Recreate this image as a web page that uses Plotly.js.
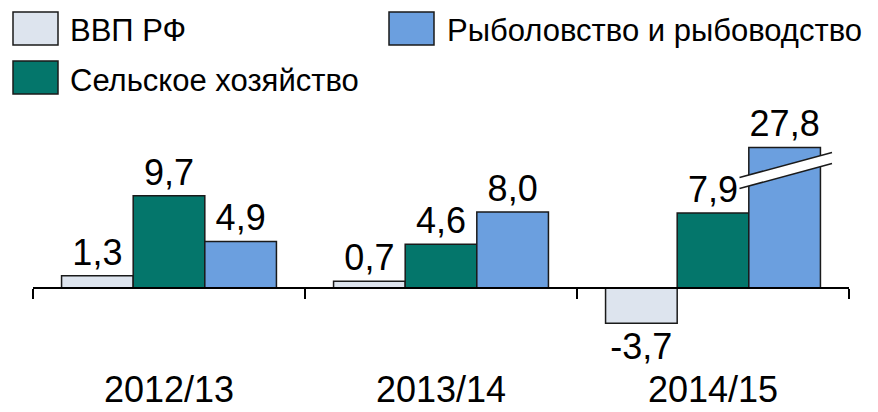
<!DOCTYPE html>
<html>
<head>
<meta charset="utf-8">
<script src="https://cdn.plot.ly/plotly-3.0.1.min.js"></script>
<style>html,body{margin:0;padding:0;background:#fff;}#chart{width:878px;height:412px;}</style>
</head>
<body>
<div id="chart"></div>
<script>
// ---- data ----
const categories = ["2012/13", "2013/14", "2014/15"];
const seriesNames = ["ВВП РФ", "Сельское хозяйство", "Рыболовство и рыбоводство"];
const gdp = [1.3, 0.7, -3.7];
const agriculture = [9.7, 4.6, 7.9];
const fishery = [4.9, 8.0, 27.8];
const breakAt = 14.8; // values above this are drawn with an axis break

// ---- style ----
const colors = ["#dde4ee", "#04766b", "#6b9fdf"];
const FONT = "Liberation Sans, Arial, sans-serif";
const W = 878, H = 412;
const yMin = -6, yMax = 18;
const M = {l: 33, r: 29, t: 117, b: 67};
const plotW = W - M.l - M.r, plotH = H - M.t - M.b;
const px = x => (x - M.l) / plotW;
const py = y => (H - M.b - y) / plotH;
const fmt = v => v.toFixed(1).replace('.', ',');

const allSeries = [gdp, agriculture, fishery];
const traces = allSeries.map((vals, i) => ({
  type: 'bar',
  name: seriesNames[i],
  x: categories,
  y: vals.map(v => Math.min(v, breakAt)),
  text: vals.map(fmt),
  textposition: 'outside',
  textfont: {family: FONT, size: 36, color: '#000'},
  constraintext: 'none',
  cliponaxis: false,
  marker: {color: colors[i], line: {color: '#1a1a1a', width: 1.5}},
  hoverinfo: 'skip'
}));

const shapes = [];
const annotations = [];
// custom legend
const legendItems = [
  {x: 13, y: 12, name: seriesNames[0], c: colors[0], tx: 68, ty: 31},
  {x: 389, y: 12, name: seriesNames[2], c: colors[2], tx: 445, ty: 31},
  {x: 13, y: 61, name: seriesNames[1], c: colors[1], tx: 68, ty: 80}
];
legendItems.forEach(it => {
  shapes.push({type: 'rect', xref: 'paper', yref: 'paper',
    x0: px(it.x), x1: px(it.x + 45), y0: py(it.y), y1: py(it.y + 33),
    fillcolor: it.c, line: {color: '#1a1a1a', width: 1.5}});
  annotations.push({xref: 'paper', yref: 'paper', x: px(it.tx), y: py(it.ty),
    xanchor: 'left', yanchor: 'middle', text: it.name, showarrow: false,
    font: {family: FONT, size: 31, color: '#000'}});
});
// axis break mark on the truncated bar
const b = {x0: 739.5, x1: 832, yu0: 177.5, yu1: 152.5, yl0: 188.5, yl1: 163.5};
shapes.push({type: 'path', xref: 'paper', yref: 'paper',
  path: `M ${px(b.x0)} ${py(b.yu0)} L ${px(b.x1)} ${py(b.yu1)} L ${px(b.x1)} ${py(b.yl1)} L ${px(b.x0)} ${py(b.yl0)} Z`,
  fillcolor: '#ffffff', line: {width: 0}});
shapes.push({type: 'line', xref: 'paper', yref: 'paper', x0: px(b.x0), y0: py(b.yu0), x1: px(b.x1), y1: py(b.yu1), line: {color: '#1a1a1a', width: 1.5}});
shapes.push({type: 'line', xref: 'paper', yref: 'paper', x0: px(b.x0), y0: py(b.yl0), x1: px(b.x1), y1: py(b.yl1), line: {color: '#1a1a1a', width: 1.5}});

const layout = {
  width: W, height: H,
  margin: M,
  paper_bgcolor: '#fff', plot_bgcolor: '#fff',
  showlegend: false,
  barmode: 'group', bargap: 0.21, bargroupgap: 0,
  font: {family: FONT, color: '#000'},
  xaxis: {
    type: 'category', range: [-0.5, 2.5], fixedrange: true,
    anchor: 'free', position: (0 - yMin) / (yMax - yMin),
    showline: true, linecolor: '#000', linewidth: 2,
    ticks: 'outside', tickson: 'boundaries', ticklen: 10, tickwidth: 1.5, tickcolor: '#000',
    showgrid: false, zeroline: false,
    tickfont: {family: FONT, size: 36, color: '#000'},
    ticklabelstandoff: 70
  },
  yaxis: {range: [yMin, yMax], visible: false, fixedrange: true, showgrid: false, zeroline: false},
  shapes: shapes,
  annotations: annotations
};

Plotly.newPlot('chart', traces, layout, {displayModeBar: false, staticPlot: true});
</script>
</body>
</html>
